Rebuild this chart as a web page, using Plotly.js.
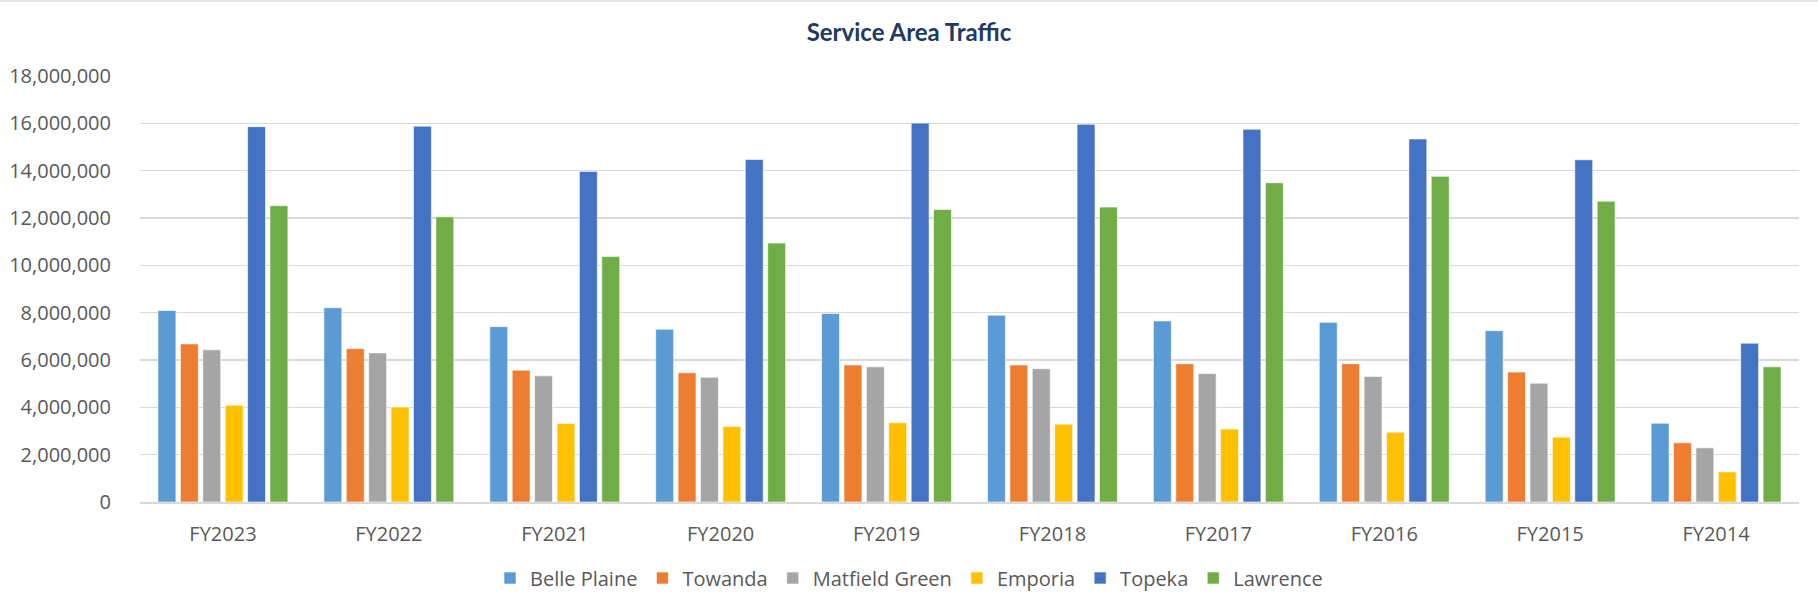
<!DOCTYPE html>
<html>
<head>
<meta charset="utf-8">
<script src="https://cdn.plot.ly/plotly-3.0.1.min.js"></script>
<style>html,body{margin:0;padding:0;background:#fff;}#chart{width:1818px;height:610px;}</style>
</head>
<body>
<div id="chart"></div>
<script>
const categories = ["FY2023","FY2022","FY2021","FY2020","FY2019","FY2018","FY2017","FY2016","FY2015","FY2014"];
const seriesNames = ["Belle Plaine","Towanda","Matfield Green","Emporia","Topeka","Lawrence"];
const bellePlaine  = [8090000, 8210000, 7410000, 7300000, 7960000, 7890000, 7650000, 7590000, 7240000, 3330000];
const towanda      = [6680000, 6480000, 5570000, 5460000, 5790000, 5790000, 5840000, 5840000, 5490000, 2500000];
const matfieldGreen= [6430000, 6300000, 5330000, 5270000, 5710000, 5630000, 5430000, 5300000, 5020000, 2290000];
const emporia      = [4090000, 4010000, 3320000, 3190000, 3350000, 3290000, 3080000, 2950000, 2740000, 1270000];
const topeka       = [15860000, 15880000, 13970000, 14470000, 16010000, 15960000, 15750000, 15340000, 14460000, 6710000];
const lawrence     = [12520000, 12050000, 10370000, 10940000, 12360000, 12460000, 13490000, 13760000, 12710000, 5710000];
const colors = ["#5B9BD5","#ED7D31","#A5A5A5","#FFC000","#4472C4","#70AD47"];
const yTickVals = [0,2000000,4000000,6000000,8000000,10000000,12000000,14000000,16000000,18000000];

const allSeries = [bellePlaine, towanda, matfieldGreen, emporia, topeka, lawrence];
const traces = allSeries.map((vals, i) => ({
  type: 'bar',
  name: seriesNames[i],
  x: categories,
  y: vals,
  marker: {color: colors[i], line: {color: 'rgba(255,255,255,0.6)', width: 1}},
  hoverinfo: 'x+y+name'
}));

const font = "'Open Sans', 'Noto Sans', sans-serif";
const layout = {
  width: 1818, height: 610,
  margin: {l: 140, r: 19, t: 76, b: 108},
  paper_bgcolor: '#fff', plot_bgcolor: '#fff',
  barmode: 'group', bargap: 0.19, bargroupgap: 0.2,
  title: {text: '<b>Service Area Traffic</b>', font: {family: "Lato, 'Open Sans', sans-serif", size: 24, color: '#203864'},
          x: 0.5, xref: 'container', xanchor: 'center', y: 1 - 32.5/610, yref: 'container', yanchor: 'middle'},
  xaxis: {type: 'category', showgrid: false, zeroline: false, showline: true, linecolor: '#d9d9d9', linewidth: 1.5,
          ticks: '', tickfont: {family: font, size: 20, color: '#595959'}, ticklabelstandoff: 13, fixedrange: true},
  yaxis: {range: [0, 18000000], tickvals: yTickVals, tickformat: ',d', showgrid: true, gridcolor: '#d9d9d9', gridwidth: 1.5,
          zeroline: false, showline: false, ticks: '', tickfont: {family: font, size: 20, color: '#595959'},
          ticklabelstandoff: 28, fixedrange: true},
  legend: {orientation: 'h', x: 0.5, xref: 'container', xanchor: 'center', y: 1 - 578/610, yref: 'container', yanchor: 'middle',
           font: {family: font, size: 20, color: '#595959'}, itemwidth: 30, traceorder: 'normal'},
  shapes: [{type: 'line', xref: 'paper', yref: 'paper', x0: -0.1, x1: 1.1, y0: (502-1)/426, y1: (502-1)/426,
            line: {color: '#d9d9d9', width: 1.5}}],
  showlegend: true
};
Plotly.newPlot('chart', traces, layout, {displayModeBar: false, staticPlot: true});
</script>
</body>
</html>
